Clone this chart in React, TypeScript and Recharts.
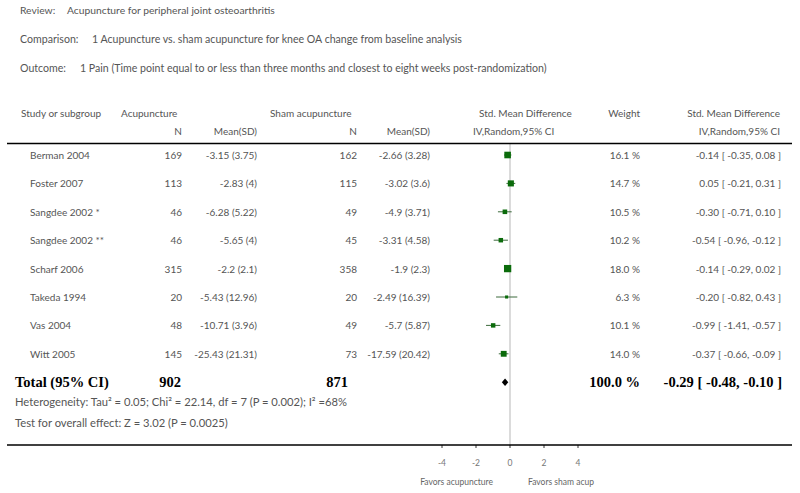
import { ComposedChart, ErrorBar, ReferenceLine, Scatter, XAxis, YAxis } from "recharts";

const studies = [
  "Berman 2004",
  "Foster 2007",
  "Sangdee 2002 *",
  "Sangdee 2002 **",
  "Scharf 2006",
  "Takeda 1994",
  "Vas 2004",
  "Witt 2005",
];
const acuN = [169, 113, 46, 46, 315, 20, 48, 145];
const acuMean = ["-3.15 (3.75)", "-2.83 (4)", "-6.28 (5.22)", "-5.65 (4)", "-2.2 (2.1)", "-5.43 (12.96)", "-10.71 (3.96)", "-25.43 (21.31)"];
const shamN = [162, 115, 49, 45, 358, 20, 49, 73];
const shamMean = ["-2.66 (3.28)", "-3.02 (3.6)", "-4.9 (3.71)", "-3.31 (4.58)", "-1.9 (2.3)", "-2.49 (16.39)", "-5.7 (5.87)", "-17.59 (20.42)"];
const weights = [16.1, 14.7, 10.5, 10.2, 18.0, 6.3, 10.1, 14.0];
const smd = [-0.14, 0.05, -0.3, -0.54, -0.14, -0.2, -0.99, -0.37];
const ciLow = [-0.35, -0.21, -0.71, -0.96, -0.29, -0.82, -1.41, -0.66];
const ciHigh = [0.08, 0.31, 0.1, -0.12, 0.02, 0.43, -0.57, -0.09];

const totalAcuN = 902;
const totalShamN = 871;
const totalWeight = 100.0;
const totalEst = -0.29;
const totalLow = -0.48;
const totalHigh = -0.1;

const xTicks = [-4, -2, 0, 2, 4];

const W = 800;
const H = 493;
const PLOT_LEFT = 442;
const PLOT_RIGHT = 578;
const PLOT_TOP = 143;
const PLOT_BOTTOM = 445;
const ROW0 = 155;
const ROW_H = 28.4;
const X_MIN = -4;
const X_MAX = 4;
const PX_PER_UNIT = (PLOT_RIGHT - PLOT_LEFT) / (X_MAX - X_MIN);
const AXIS_H = 30;

const FONT = "Lato, 'Open Sans', sans-serif";
const SERIF = "'Liberation Serif', 'DejaVu Serif', serif";
const TEXT = "#555";

const rowY = (i: number) => ROW0 + i * ROW_H;

const studyData = studies.map((name, i) => ({
  name,
  row: i,
  est: smd[i],
  err: [smd[i] - ciLow[i], ciHigh[i] - smd[i]],
  weight: weights[i],
}));

const totalData = [{ row: studies.length, est: totalEst, lo: totalLow, hi: totalHigh }];

const fmtCI = (e: number, lo: number, hi: number) => `${e.toFixed(2)} [ ${lo.toFixed(2)}, ${hi.toFixed(2)} ]`;

function Square(props: any) {
  const { cx, cy, payload } = props;
  if (cx == null || cy == null) return null;
  const s = 0.36 * payload.weight + 0.8;
  return <rect x={cx - s / 2} y={cy - s / 2} width={s} height={s} fill="#0b6b0b" />;
}

function Diamond(props: any) {
  const { cx, cy, payload } = props;
  if (cx == null || cy == null) return null;
  const l = cx - (payload.est - payload.lo) * PX_PER_UNIT;
  const r = cx + (payload.hi - payload.est) * PX_PER_UNIT;
  const h = 3.8;
  return <polygon points={`${l},${cy} ${cx},${cy - h} ${r},${cy} ${cx},${cy + h}`} fill="#000" />;
}

function T(props: { x: number; y: number; anchor?: "start" | "end" | "middle"; size?: number; bold?: boolean; serif?: boolean; fill?: string; children: any }) {
  const { x, y, anchor = "start", size = 10, bold, serif, fill, children } = props;
  return (
    <text
      x={x}
      y={y}
      textAnchor={anchor}
      dominantBaseline="central"
      fontSize={size}
      fontFamily={serif ? SERIF : FONT}
      fontWeight={bold ? 700 : 400}
      fill={fill ?? (bold ? "#000" : TEXT)}
    >
      {children}
    </text>
  );
}

export default function App() {
  const span = (PLOT_BOTTOM - PLOT_TOP) / ROW_H;
  const d0 = -(ROW0 - PLOT_TOP) / ROW_H;
  const totalY = rowY(studies.length);

  return (
    <div style={{ position: "absolute", left: 0, top: 0, width: W, height: H, background: "#fff" }}>
      <ComposedChart
        width={W}
        height={H}
        margin={{ top: PLOT_TOP, left: PLOT_LEFT, right: W - PLOT_RIGHT, bottom: H - PLOT_BOTTOM - AXIS_H }}
      >
        <XAxis
          type="number"
          dataKey="est"
          domain={[X_MIN, X_MAX]}
          ticks={xTicks}
          height={AXIS_H}
          axisLine={false}
          tickLine={{ stroke: "#333" }}
          tickSize={3}
          tickMargin={12}
          tick={{ fontSize: 8.5, fill: "#777", fontFamily: FONT }}
          allowDataOverflow
        />
        <YAxis type="number" dataKey="row" domain={[d0, d0 + span]} reversed hide width={0} allowDataOverflow />
        <ReferenceLine x={0} stroke="#cfcfcf" strokeWidth={1.5} />
        <Scatter data={studyData} dataKey="est" shape={<Square />} isAnimationActive={false}>
          <ErrorBar dataKey="err" direction="x" width={0} stroke="#3d6b3d" strokeWidth={1} />
        </Scatter>
        <Scatter data={totalData} dataKey="est" shape={<Diamond />} isAnimationActive={false} />
      </ComposedChart>

      <svg width={W} height={H} style={{ position: "absolute", left: 0, top: 0, pointerEvents: "none" }}>
        <T x={20} y={10} size={10.3}>Review:</T>
        <T x={67} y={10} size={10.3}>Acupuncture for peripheral joint osteoarthritis</T>
        <T x={20} y={39} size={10.6}>Comparison:</T>
        <T x={92} y={39} size={10.6}>1 Acupuncture vs. sham acupuncture for knee OA change from baseline analysis</T>
        <T x={20} y={68} size={10.6}>Outcome:</T>
        <T x={80} y={68} size={10.6}>1 Pain (Time point equal to or less than three months and closest to eight weeks post-randomization)</T>

        <T x={21} y={113}>Study or subgroup</T>
        <T x={121} y={113}>Acupuncture</T>
        <T x={270} y={113}>Sham acupuncture</T>
        <T x={479} y={113}>Std. Mean Difference</T>
        <T x={640} y={113} anchor="end">Weight</T>
        <T x={780} y={113} anchor="end">Std. Mean Difference</T>
        <T x={182} y={131} anchor="end">N</T>
        <T x={257} y={131} anchor="end">Mean(SD)</T>
        <T x={357} y={131} anchor="end">N</T>
        <T x={430} y={131} anchor="end">Mean(SD)</T>
        <T x={473} y={131}>IV,Random,95% CI</T>
        <T x={780} y={131} anchor="end">IV,Random,95% CI</T>

        <line x1={7} x2={792} y1={143.5} y2={143.5} stroke="#000" strokeWidth={1.5} />

        {studies.map((name, i) => (
          <g key={name}>
            <T x={30} y={rowY(i)}>{name}</T>
            <T x={182} y={rowY(i)} anchor="end">{acuN[i]}</T>
            <T x={257} y={rowY(i)} anchor="end">{acuMean[i]}</T>
            <T x={357} y={rowY(i)} anchor="end">{shamN[i]}</T>
            <T x={430} y={rowY(i)} anchor="end">{shamMean[i]}</T>
            <T x={640} y={rowY(i)} anchor="end">{`${weights[i].toFixed(1)} %`}</T>
            <T x={781} y={rowY(i)} anchor="end">{fmtCI(smd[i], ciLow[i], ciHigh[i])}</T>
          </g>
        ))}

        <T x={15} y={totalY} size={14.5} bold serif>Total (95% CI)</T>
        <T x={181} y={totalY} anchor="end" size={14.5} bold serif>{totalAcuN}</T>
        <T x={348} y={totalY} anchor="end" size={14.5} bold serif>{totalShamN}</T>
        <T x={640} y={totalY} anchor="end" size={14.5} bold serif>{`${totalWeight.toFixed(1)} %`}</T>
        <T x={782} y={totalY} anchor="end" size={14.5} bold serif>{fmtCI(totalEst, totalLow, totalHigh)}</T>

        <T x={15} y={401} size={11.2}>Heterogeneity: Tau² = 0.05; Chi² = 22.14, df = 7 (P = 0.002); I² =68%</T>
        <T x={15} y={422} size={11.2}>Test for overall effect: Z = 3.02 (P = 0.0025)</T>

        <line x1={7} x2={792} y1={PLOT_BOTTOM} y2={PLOT_BOTTOM} stroke="#000" strokeWidth={1.5} />

        <T x={493} y={482} anchor="end" size={8.5} fill="#666">Favors acupuncture</T>
        <T x={528} y={482} size={8.5} fill="#666">Favors sham acup</T>
      </svg>
    </div>
  );
}
